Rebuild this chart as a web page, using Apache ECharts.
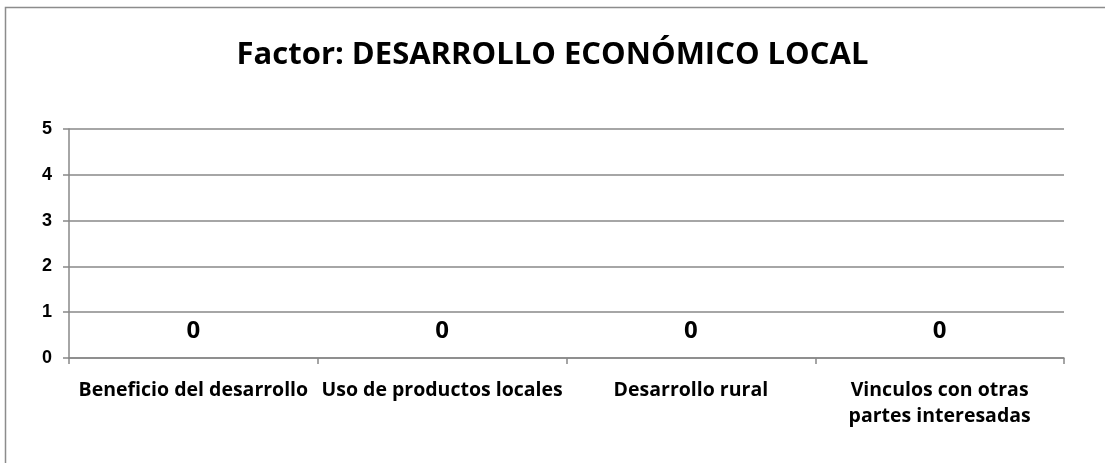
<!DOCTYPE html>
<html>
<head>
<meta charset="utf-8">
<script src="https://cdn.jsdelivr.net/npm/echarts@6/dist/echarts.min.js"></script>
<style>
  html, body { margin: 0; padding: 0; background: #fff; }
  #chart { width: 1105px; height: 463px; }
</style>
</head>
<body>
<div id="chart"></div>
<script>
var titleText = 'Factor: DESARROLLO ECONÓMICO LOCAL';
var categories = ['Beneficio del desarrollo', 'Uso de productos locales', 'Desarrollo rural', 'Vinculos con otras\npartes interesadas'];
var values = [0, 0, 0, 0];
var yTicks = [0, 1, 2, 3, 4, 5];

var chart = echarts.init(document.getElementById('chart'));

var option = {
    backgroundColor: '#fff',
    animation: false,
    title: {
        text: titleText,
        left: 'center',
        top: 35,
        textStyle: {
            fontFamily: 'Open Sans',
            fontWeight: 'bold',
            fontSize: 31,
            color: '#000'
        }
    },
    graphic: [
        {
            type: 'rect',
            shape: { x: 5.5, y: 7.5, width: 1200, height: 600 },
            style: { fill: 'none', stroke: '#8c8c8c', lineWidth: 1.5 },
            silent: true
        }
    ],
    grid: {
        left: 69,
        right: 41,
        top: 129,
        bottom: 105
    },
    xAxis: {
        type: 'category',
        data: categories,
        axisLine: { lineStyle: { color: '#888', width: 1.5 } },
        axisTick: { show: true, length: 6, alignWithLabel: false, lineStyle: { color: '#888', width: 1.5 } },
        axisLabel: {
            interval: 0,
            margin: 19,
            fontFamily: 'Open Sans',
            fontWeight: 'bold',
            fontSize: 19.5,
            lineHeight: 26,
            color: '#000'
        }
    },
    yAxis: {
        type: 'value',
        min: yTicks[0],
        max: yTicks[yTicks.length - 1],
        interval: 1,
        axisLine: { show: true, lineStyle: { color: '#888', width: 1.5 } },
        axisTick: { show: true, length: 6, lineStyle: { color: '#888', width: 1.5 } },
        splitLine: { show: true, lineStyle: { color: '#888', width: 1.5 } },
        axisLabel: {
            margin: 17,
            fontFamily: 'Liberation Sans',
            fontWeight: 'bold',
            fontSize: 18,
            color: '#000'
        }
    },
    series: [
        {
            type: 'bar',
            data: values,
            barWidth: '60%',
            itemStyle: { color: '#4f81bd' },
            label: {
                show: true,
                position: 'top',
                distance: 15,
                fontFamily: 'Open Sans',
                fontWeight: 'bold',
                fontSize: 24,
                color: '#000'
            }
        }
    ]
};

chart.setOption(option);
</script>
</body>
</html>
